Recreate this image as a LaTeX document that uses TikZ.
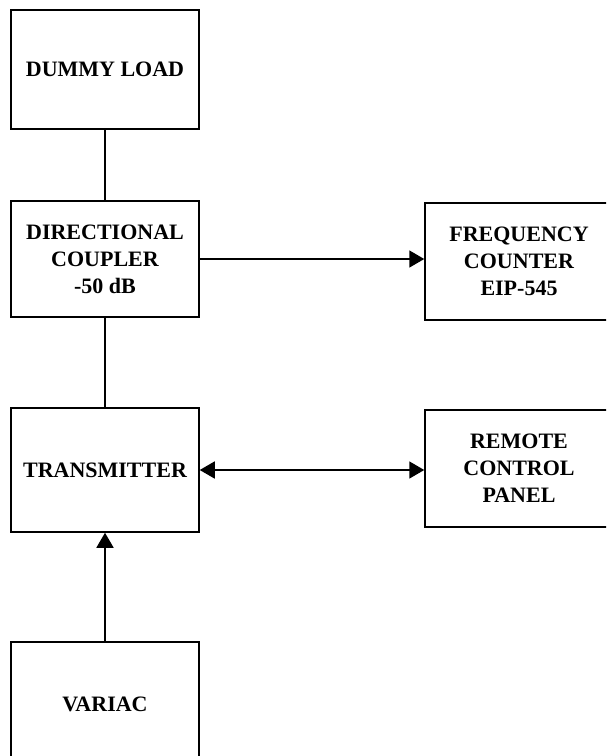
\documentclass[tikz,border=0pt]{standalone}
\usepackage{fontspec}
\setmainfont{Liberation Serif}
\usetikzlibrary{arrows.meta,positioning}

\begin{document}
\begin{tikzpicture}[
    x=1pt, y=1pt,
    blk/.style={draw, line width=1.5pt, minimum width=188pt, align=center,
      inner sep=2pt, font=\fontsize{22}{27}\selectfont\bfseries},
    link/.style={line width=1.6pt},
    tip/.style={line width=1.6pt, -{Triangle[length=15pt,width=17pt]}},
  ]
  \clip (0,0) rectangle (606,-756);
  \fill[white] (0,0) rectangle (606,-756);

  % Left column
  \node[blk, minimum height=119pt] (dummy) at (105,-69.5) {DUMMY LOAD};
  \node[blk, minimum height=116pt] (coupler) at (105,-259) 
    {DIRECTIONAL\\COUPLER\\-50 dB};
  \node[blk, minimum height=124pt] (trans) at (105,-470) {TRANSMITTER};
  \node[blk, minimum height=124pt] (variac) at (105,-704) {VARIAC};

  % Right column
  \node[blk, minimum height=117pt] (counter) at (519,-261.5)
    {FREQUENCY\\COUNTER\\EIP-545};
  \node[blk, minimum height=117pt] (remote) at (519,-468.5)
    {REMOTE\\CONTROL\\PANEL};

  % Connectors
  \draw[link] (dummy.south) -- (coupler.north);
  \draw[link] (coupler.south) -- (trans.north);
  \draw[tip] (variac.north) -- (trans.south);
  \draw[tip] (coupler.east) -- (coupler.east -| counter.west);
  \draw[tip, {Triangle[length=15pt,width=17pt]}-{Triangle[length=15pt,width=17pt]}]
    (trans.east) -- (trans.east -| remote.west);

\end{tikzpicture}
\end{document}
